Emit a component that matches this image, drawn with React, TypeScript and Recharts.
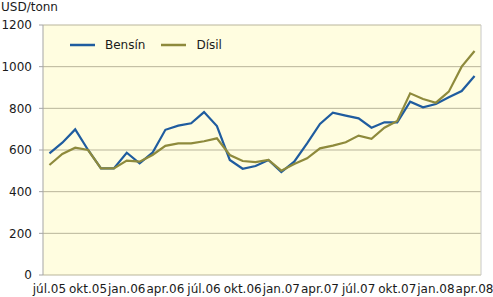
import React from "react";
import {
  LineChart,
  Line,
  XAxis,
  YAxis,
  CartesianGrid,
  Legend,
  ReferenceLine,
} from "recharts";

const categories: string[] = [
  "júl.05", "ágú.05", "sep.05", "okt.05", "nóv.05", "des.05",
  "jan.06", "feb.06", "mar.06", "apr.06", "maí.06", "jún.06",
  "júl.06", "ágú.06", "sep.06", "okt.06", "nóv.06", "des.06",
  "jan.07", "feb.07", "mar.07", "apr.07", "maí.07", "jún.07",
  "júl.07", "ágú.07", "sep.07", "okt.07", "nóv.07", "des.07",
  "jan.08", "feb.08", "mar.08", "apr.08",
];

const bensin: number[] = [
  584, 635, 699, 600, 512, 512, 587, 536, 587, 697, 717, 728,
  782, 715, 552, 510, 523, 552, 494, 544, 632, 725, 779, 765,
  752, 707, 733, 733, 832, 805, 821, 853, 883, 955,
];

const disil: number[] = [
  528, 581, 611, 600, 512, 512, 549, 544, 576, 620, 632, 632,
  642, 656, 576, 547, 542, 552, 501, 533, 560, 608, 621, 637,
  669, 654, 707, 739, 872, 845, 827, 880, 1000, 1075,
];

const yTicks: number[] = [0, 200, 400, 600, 800, 1000, 1200];
const labelIdx: number[] = [0, 3, 6, 9, 12, 15, 18, 21, 24, 27, 30, 33];
const boundaryTicks: number[] = [-0.5, 2.5, 5.5, 8.5, 11.5, 14.5, 17.5, 20.5, 23.5, 26.5, 29.5, 32.5];

const data = categories.map((c, i) => ({
  i,
  cat: c,
  bensin: bensin[i],
  disil: disil[i],
}));

const FONT = "'DejaVu Sans', Verdana, sans-serif";
const AXIS = "#a5a5a5";

const LegendContent = (props: any) => {
  const payload = props.payload || [];
  return (
    <div style={{ display: "flex", alignItems: "center", fontFamily: FONT, fontSize: 12, color: "#1a1a1a", whiteSpace: "nowrap" }}>
      {payload.map((p: any, k: number) => (
        <div key={k} style={{ display: "flex", alignItems: "center", marginLeft: k === 0 ? 0 : 16 }}>
          <svg width={25} height={4} style={{ marginRight: 10 }}>
            <line x1={0} y1={2} x2={25} y2={2} stroke={p.color} strokeWidth={2.5} />
          </svg>
          <span>{p.value}</span>
        </div>
      ))}
    </div>
  );
};

export default function App() {
  return (
    <div style={{ position: "absolute", left: 0, top: 0, width: 493, height: 297, background: "#fff", fontFamily: FONT }}>
      <div style={{ position: "absolute", left: 1, top: 0, fontSize: 12, color: "#1a1a1a", lineHeight: "14px" }}>USD/tonn</div>
      <LineChart
        width={493}
        height={297}
        data={data}
        margin={{ top: 25, right: 12, bottom: 0, left: 0 }}
        style={{ fontFamily: FONT }}
      >
        <CartesianGrid vertical={false} stroke="#b9b59b" fill="#fffde0" strokeWidth={1} />
        <XAxis
          xAxisId="t"
          dataKey="i"
          type="number"
          domain={[-0.5, 33.5]}
          ticks={boundaryTicks}
          tick={false}
          tickSize={4}
          height={0}
          stroke={AXIS}
          tickLine={{ stroke: AXIS }}
          axisLine={{ stroke: AXIS }}
        />
        <XAxis
          dataKey="i"
          type="number"
          domain={[-0.5, 33.5]}
          ticks={labelIdx}
          interval={0}
          tickFormatter={(v: number) => categories[v]}
          tickLine={false}
          axisLine={false}
          tickSize={0}
          tickMargin={9.5}
          height={22}
          tick={{ fontSize: 12, fill: "#1a1a1a", fontFamily: FONT }}
        />
        <YAxis
          domain={[0, 1200]}
          ticks={yTicks}
          width={43}
          tickSize={4}
          tickMargin={7}
          stroke={AXIS}
          tick={{ fontSize: 12, fill: "#1a1a1a", fontFamily: FONT }}
        />
        <ReferenceLine x={33.5} stroke="#c8c8c8" strokeWidth={1} />
        <Legend
          layout="vertical"
          align="center"
          verticalAlign="middle"
          wrapperStyle={{ left: 70, top: 38, width: "auto" }}
          content={LegendContent}
        />
        <Line
          type="linear"
          dataKey="bensin"
          name="Bensín"
          stroke="#1f5c9f"
          strokeWidth={2.2}
          dot={false}
          isAnimationActive={false}
        />
        <Line
          type="linear"
          dataKey="disil"
          name="Dísil"
          stroke="#8e8a3c"
          strokeWidth={2.2}
          dot={false}
          isAnimationActive={false}
        />
      </LineChart>
    </div>
  );
}
